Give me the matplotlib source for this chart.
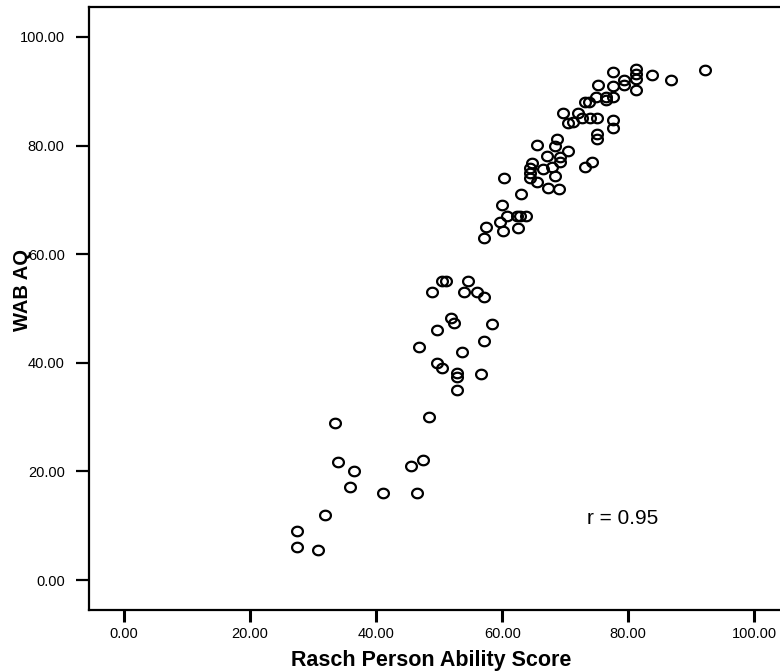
import numpy as np
import matplotlib
matplotlib.use("Agg")
import matplotlib.pyplot as plt
from matplotlib.path import Path

plt.rcParams['font.family'] = ['Liberation Sans', 'DejaVu Sans']

# Rasch person ability score (x) vs WAB AQ (y)
rasch = [
    92.1, 86.8, 83.7, 81.3, 81.3, 81.3, 81.3, 77.6, 79.4, 79.4,
    77.6, 75.2, 77.6, 76.5, 76.5, 74.9, 73.8, 73.2, 69.7, 72.1,
    70.5, 71.3, 72.7, 74.0, 75.1, 77.6, 77.6, 75.1, 75.1, 68.7,
    65.6, 68.4, 70.5, 67.1, 69.2, 69.2, 64.8, 64.4, 64.4, 64.4,
    66.5, 67.9, 68.4, 65.6, 67.3, 69.0, 74.3, 73.2, 60.3, 63.0,
    60.0, 60.8, 59.7, 62.4, 62.9, 63.7, 57.5, 60.2, 62.5, 57.1,
    48.9, 50.5, 51.1, 54.6, 54.0, 56.0, 57.1, 51.9, 52.4, 58.4,
    49.7, 46.8, 57.1, 53.7, 49.7, 50.5, 52.9, 52.9, 56.7, 52.9,
    33.5, 48.4, 34.0, 36.5, 35.9, 45.6, 47.5, 41.1, 46.5, 31.9,
    27.5, 27.5, 30.8,
]
wab_aq = [
    93.9, 92.1, 93.0, 94.1, 93.2, 92.3, 90.2, 93.6, 92.1, 91.2,
    91.0, 91.2, 88.9, 88.9, 88.4, 88.9, 88.0, 88.0, 86.0, 86.0,
    84.2, 84.3, 85.1, 85.1, 85.1, 84.7, 83.2, 82.1, 81.2, 81.2,
    80.1, 79.9, 79.0, 78.1, 77.9, 77.0, 76.8, 75.9, 75.0, 74.0,
    75.7, 76.1, 74.4, 73.3, 72.2, 72.0, 77.0, 76.1, 74.0, 71.1,
    69.1, 67.0, 65.9, 67.0, 67.0, 67.0, 65.0, 64.3, 64.8, 63.0,
    53.0, 55.1, 55.1, 55.1, 53.0, 53.0, 52.1, 48.3, 47.3, 47.1,
    46.0, 42.9, 44.0, 42.0, 40.0, 39.0, 38.1, 37.4, 37.9, 35.0,
    28.9, 30.0, 21.7, 20.1, 17.1, 21.0, 22.1, 16.0, 16.0, 12.0,
    9.0, 6.1, 5.5,
]
ticks = [0, 20, 40, 60, 80, 100]
tick_labels = ["0.00", "20.00", "40.00", "60.00", "80.00", "100.00"]

# slightly flattened circle, like the SPSS marker
t = np.linspace(0, 2 * np.pi, 60)
ellipse = Path(np.column_stack([np.cos(t), 0.88 * np.sin(t)]), closed=True)

fig = plt.figure(figsize=(7.8, 6.72), dpi=100)
ax = fig.add_axes([0.1141, 0.0923, 0.8974, 0.8973])

ax.plot(rasch, wab_aq, linestyle='none', marker=ellipse, markersize=7.8,
        markerfacecolor='none', markeredgecolor='black', markeredgewidth=1.6)

ax.set_xlim(-5.56, 105.5)
ax.set_ylim(-5.5, 105.5)
ax.set_xticks(ticks)
ax.set_xticklabels(tick_labels)
ax.set_yticks(ticks)
ax.set_yticklabels(tick_labels)

for side in ['left', 'bottom', 'top', 'right']:
    ax.spines[side].set_linewidth(1.6)

ax.tick_params(axis='y', direction='out', length=9.5, width=1.6, labelsize=10.5, pad=8)
ax.tick_params(axis='x', direction='out', length=8.5, width=2.2, labelsize=10.5, pad=4)

ax.set_xlabel("Rasch Person Ability Score", fontsize=15.5, fontweight='bold')
ax.xaxis.set_label_coords(0.489, -0.066)
ax.set_ylabel("WAB AQ", fontsize=14.5, fontweight='bold')
ax.yaxis.set_label_coords(-0.082, 0.53)

ax.text(73.5, 11.4, "r = 0.95", fontsize=15, va='center', ha='left')

fig.savefig("out.png", dpi=100)
